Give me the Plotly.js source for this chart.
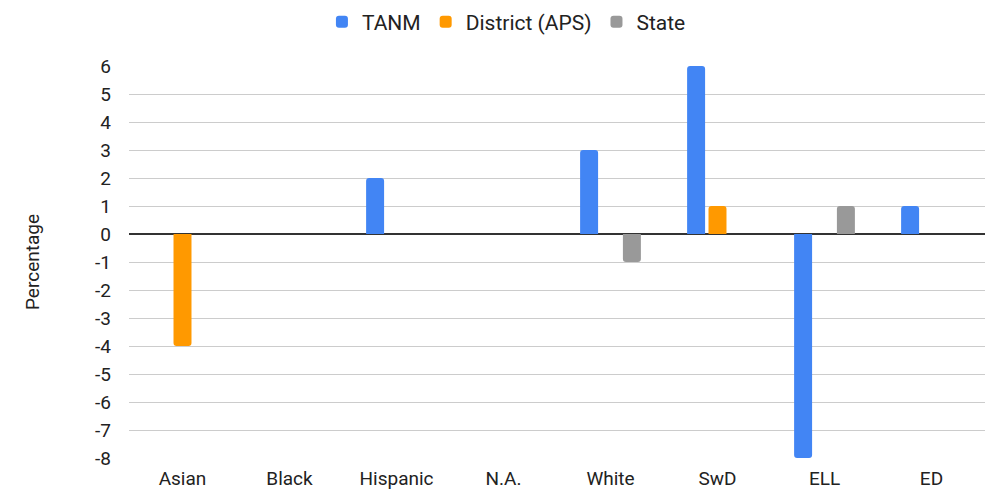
<!DOCTYPE html>
<html>
<head>
<meta charset="utf-8">
<script src="https://cdn.plot.ly/plotly-3.0.1.min.js"></script>
<style>html,body{margin:0;padding:0;background:#fff;}#chart{width:993px;height:490px;}</style>
</head>
<body>
<div id="chart"></div>
<script>
const categories = ["Asian", "Black", "Hispanic", "N.A.", "White", "SwD", "ELL", "ED"];
const tanm = [0, 0, 2, 0, 3, 6, -8, 1];
const district = [-4, 0, 0, 0, 0, 1, 0, 0];
const state = [0, 0, 0, 0, -1, 0, 1, 0];
const yTicks = [-8, -7, -6, -5, -4, -3, -2, -1, 0, 1, 2, 3, 4, 5, 6];

const FONT = "Roboto, Arial, sans-serif";
function bar(name, y, color) {
  return {type: "bar", name: name, x: categories, y: y,
    marker: {color: color, cornerradius: 3}, hoverinfo: "x+y+name"};
}
const data = [
  bar("TANM", tanm, "#4285F4"),
  bar("District (APS)", district, "#FF9900"),
  bar("State", state, "#999999")
];
const layout = {
  width: 993, height: 490,
  margin: {l: 129, r: 8, t: 66, b: 32, autoexpand: false},
  paper_bgcolor: "#fff", plot_bgcolor: "#fff",
  font: {family: FONT, size: 19, color: "#222"},
  barmode: "group", bargap: 0.4, bargroupgap: 0.16,
  showlegend: true,
  legend: {orientation: "h", xref: "container", x: 0.51, xanchor: "center",
    yref: "container", y: 0.955, yanchor: "middle", itemwidth: 30,
    font: {family: FONT, size: 21, color: "#222"}},
  xaxis: {type: "category", showgrid: false, zeroline: false, showline: false,
    ticks: "", tickfont: {family: FONT, size: 19, color: "#222"}, ticklabelstandoff: 7},
  yaxis: {range: [-8, 6], tickvals: yTicks, ticktext: yTicks.map(String),
    showgrid: true, gridcolor: "#cccccc", gridwidth: 1,
    zeroline: true, zerolinecolor: "#333333", zerolinewidth: 1.5,
    showline: false, ticks: "", ticklabelstandoff: 17,
    tickfont: {family: FONT, size: 19, color: "#222"},
    title: {text: "Percentage", font: {family: FONT, size: 19, color: "#222"}, standoff: 50}}
};
Plotly.newPlot("chart", data, layout, {displayModeBar: false, staticPlot: true});
</script>
</body>
</html>
